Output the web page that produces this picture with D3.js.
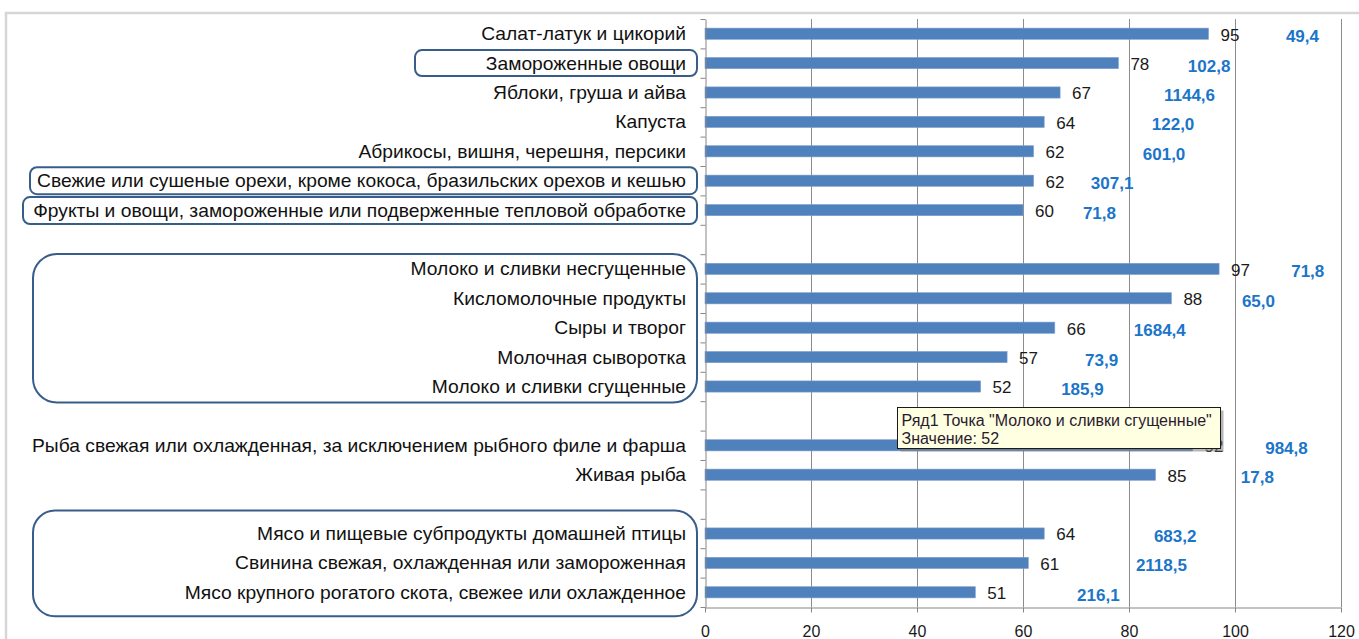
<!DOCTYPE html>
<html>
<head>
<meta charset="utf-8">
<script src="https://cdn.jsdelivr.net/npm/d3@7"></script>
<style>
  body { margin: 0; background: #fff; }
  svg { display: block; font-family: "Liberation Sans", Arial, sans-serif; }
</style>
</head>
<body>
<svg id="chart" width="1359" height="639"></svg>
<script>
// categories top to bottom, "" = empty spacer row
const categories = [
  "Салат-латук и цикорий",
  "Замороженные овощи",
  "Яблоки, груша и айва",
  "Капуста",
  "Абрикосы, вишня, черешня, персики",
  "Свежие или сушеные орехи, кроме кокоса, бразильских орехов и кешью",
  "Фрукты и овощи, замороженные или подверженные тепловой обработке",
  "",
  "Молоко и сливки несгущенные",
  "Кисломолочные продукты",
  "Сыры и творог",
  "Молочная сыворотка",
  "Молоко и сливки сгущенные",
  "",
  "Рыба свежая или охлажденная, за исключением рыбного филе и фарша",
  "Живая рыба",
  "",
  "Мясо и пищевые субпродукты домашней птицы",
  "Свинина свежая, охлажденная или замороженная",
  "Мясо крупного рогатого скота, свежее или охлажденное"
];
const values = [95, 78, 67, 64, 62, 62, 60, null, 97, 88, 66, 57, 52, null, 92, 85, null, 64, 61, 51];
// blue numbers written next to the bars
const volumes = [49.4, 102.8, 1144.6, 122.0, 601.0, 307.1, 71.8, null, 71.8, 65.0, 1684.4, 73.9, 185.9, null, 984.8, 17.8, null, 683.2, 2118.5, 216.1];
// where each blue number starts, in axis units (hand placed in the original)
const volumeAt = [109.6, 91.1, 86.6, 84.3, 82.6, 72.8, 71.3, null, 110.6, 101.3, 80.9, 71.7, 67.2, null, 105.7, 101.1, null, 84.7, 81.3, 70.2];
const xTicks = [0, 20, 40, 60, 80, 100, 120];

const tooltipLines = ["Ряд1 Точка \"Молоко и сливки сгущенные\"", "Значение: 52"];

const svg = d3.select("#chart");
const W = 1359, H = 639;
const M = { top: 19, bottom: 607, left: 705, right: 1341 };
const LABEL_RIGHT = 686;

// frame of the chart area (runs off the picture right and bottom)
svg.append("rect")
  .attr("x", 6).attr("y", 13).attr("width", W + 20).attr("height", H + 20)
  .attr("fill", "#fff").attr("stroke", "#d6d6d6").attr("stroke-width", 2.5);

const idx = d3.range(categories.length);
const x = d3.scaleLinear().domain([0, 120]).range([M.left, M.right]);
const y = d3.scaleBand().domain(idx).range([M.top, M.bottom]).paddingInner(0.62).paddingOuter(0.31);
const yEdge = d3.scaleLinear().domain([0, categories.length]).range([M.top, M.bottom]);
const cy = i => y(i) + y.bandwidth() / 2;

// gridlines
svg.append("g")
  .selectAll("line")
  .data(xTicks.filter(t => t > 0))
  .join("line")
    .attr("x1", d => Math.round(x(d)) + 0.5).attr("x2", d => Math.round(x(d)) + 0.5)
    .attr("y1", M.top).attr("y2", M.bottom)
    .attr("stroke", "#8c8c8c");

// bars
const rows = idx.filter(i => values[i] != null);
svg.append("g")
  .selectAll("rect")
  .data(rows)
  .join("rect")
    .attr("x", x(0))
    .attr("y", i => y(i))
    .attr("width", i => x(values[i]) - x(0))
    .attr("height", y.bandwidth())
    .attr("fill", "#4f81bd")
    .attr("stroke", "#7d9fcc").attr("stroke-width", 0.6);

// axes
const yAxis = svg.append("g")
  .attr("transform", `translate(${Math.round(M.left) + 0.5},0)`)
  .call(d3.axisLeft(yEdge).tickValues(d3.range(categories.length + 1)).tickFormat("").tickSize(5).tickSizeOuter(0));
yAxis.selectAll("line,path").attr("stroke", "#868686");

const xAxis = svg.append("g")
  .attr("transform", `translate(0,${M.bottom + 0.5})`)
  .call(d3.axisBottom(x).tickValues(xTicks).tickSize(5).tickSizeOuter(0));
xAxis.selectAll("line,path").attr("stroke", "#868686");
xAxis.selectAll("text")
  .attr("y", 24).attr("dy", "0.35em")
  .attr("font-size", 16).attr("fill", "#1a1a1a")
  .attr("font-family", "Liberation Sans, Arial, sans-serif");

// value labels
svg.append("g")
  .selectAll("text")
  .data(rows)
  .join("text")
    .attr("x", i => x(values[i]) + 12)
    .attr("y", i => cy(i) + 1)
    .attr("dy", "0.35em")
    .attr("font-size", 17)
    .attr("fill", "#1a1a1a")
    .text(i => values[i]);

// blue numbers
const fmt = v => d3.format(".1f")(v).replace(".", ",");
svg.append("g")
  .selectAll("text")
  .data(rows)
  .join("text")
    .attr("x", i => x(volumeAt[i]))
    .attr("y", i => cy(i) + 2.5)
    .attr("dy", "0.35em")
    .attr("font-size", 17)
    .attr("font-weight", "bold")
    .attr("fill", "#1b75c9")
    .text(i => fmt(volumes[i]));

// category labels, condensed to Excel's width
const labels = svg.append("g")
  .selectAll("text")
  .data(rows)
  .join("text")
    .attr("x", LABEL_RIGHT)
    .attr("y", i => cy(i))
    .attr("dy", "0.35em")
    .attr("text-anchor", "end")
    .attr("font-size", 18.5)
    .attr("fill", "#111")
    .text(i => categories[i]);
const longest = d3.max(labels.nodes(), n => n.getComputedTextLength());
const k = 654 / longest;
labels.each(function() {
  const w = this.getComputedTextLength();
  d3.select(this).attr("textLength", w * k).attr("lengthAdjust", "spacingAndGlyphs");
});

// rounded outlines drawn around some labels
const boxes = [
  { from: 1, to: 1, left: 415, padTop: 13, padBottom: 13, r: 7 },
  { from: 5, to: 5, left: 30, padTop: 13.5, padBottom: 13.5, r: 7 },
  { from: 6, to: 6, left: 23, padTop: 13, padBottom: 14, r: 7 },
  { from: 8, to: 12, left: 33, padTop: 15, padBottom: 16, r: 24 },
  { from: 17, to: 19, left: 33, padTop: 23, padBottom: 24, r: 22 }
];
svg.append("g")
  .selectAll("rect")
  .data(boxes)
  .join("rect")
    .attr("x", d => d.left)
    .attr("y", d => cy(d.from) - d.padTop)
    .attr("width", d => 697 - d.left)
    .attr("height", d => cy(d.to) + d.padBottom - (cy(d.from) - d.padTop))
    .attr("rx", d => d.r)
    .attr("fill", "none")
    .attr("stroke", "#385d8a")
    .attr("stroke-width", 2);

// hover tooltip from the screenshot
const target = categories.indexOf("Молоко и сливки сгущенные");
const tip = svg.append("g")
  .attr("transform", `translate(${Math.round(x(36.3)) + 0.5},${Math.round(cy(target) + 20) + 0.5})`);
tip.append("rect")
  .attr("x", 3).attr("y", 3).attr("width", 323).attr("height", 41)
  .attr("fill", "#7a7a7a").attr("opacity", 0.55);
tip.append("rect")
  .attr("width", 323).attr("height", 41)
  .attr("fill", "#ffffe1").attr("stroke", "#1a1a1a").attr("stroke-width", 1);
tip.selectAll("text.tl")
  .data(tooltipLines)
  .join("text")
    .attr("class", "tl")
    .attr("x", 4)
    .attr("y", (d, i) => 13 + i * 18)
    .attr("dy", "0.35em")
    .attr("font-size", 16)
    .attr("fill", "#2a1a30")
    .text(d => d);
</script>
</body>
</html>
